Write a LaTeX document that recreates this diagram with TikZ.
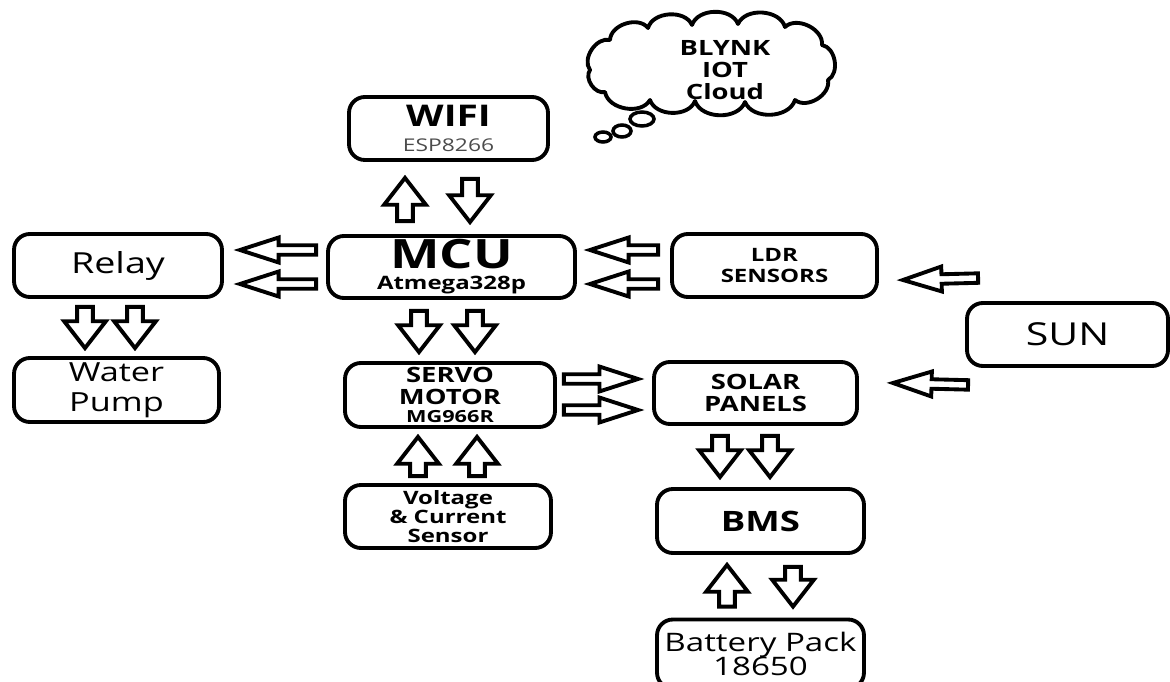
\documentclass[tikz,border=0pt]{standalone}
\usepackage{fontspec}
\setmainfont{Open Sans}[FakeStretch=1.3]
\usetikzlibrary{calc}

\tikzset{
  blk/.style={draw, line width=2.2pt, rounded corners=9pt, align=center, inner sep=0pt},
  hollow/.style={draw, line width=2.2pt, line join=miter, fill=white, to path={
      (\tikztostart) coordinate (t0) (\tikztotarget) coordinate (t1)
      ($(t1)!\ahead!(t0)$) coordinate (th)
      ($(t0)!\ashaft!90:(t1)$) -- ($(th)!\ashaft!-90:(t0)$) -- ($(th)!\awide!-90:(t0)$) -- (t1)
      -- ($(th)!\awide!90:(t0)$) -- ($(th)!\ashaft!90:(t0)$) -- ($(t0)!\ashaft!-90:(t1)$) -- cycle}},
  varrow/.style={hollow, /utils/exec={\def\ashaft{4.5pt}\def\awide{11.9pt}\def\ahead{15.3pt}}},
  harrow/.style={hollow, /utils/exec={\def\ashaft{2.7pt}\def\awide{7.1pt}\def\ahead{22pt}}},
  puff/.style={bend left=70},
}

\begin{document}
\begin{tikzpicture}[x=0.02cm, y=-0.02cm]
  %%%%% START %%%%%
  \useasboundingbox (0,0) rectangle (1170,682);

  % cloud
  \draw[line width=2pt, fill=white] (603,137) ellipse [x radius=8, y radius=5];
  \draw[line width=2pt, fill=white] (622,131) ellipse [x radius=9, y radius=6];
  \draw[line width=2pt, fill=white] (642,119) ellipse [x radius=12, y radius=7];
  \draw[line width=2.2pt, fill=white, line join=round] (590,70) to[puff] (610,40) to[puff] (648,28)
    to[puff] (692,25) to[puff] (738,24) to[puff] (785,27) to[puff] (822,45) to[puff] (828,80)
    to[puff] (795,100) to[puff] (745,102) to[puff] (695,101) to[puff] (650,100) to[puff] (605,92)
    to[puff] cycle;
  \node[align=center, font=\bfseries\fontsize{12}{12.7}\selectfont] (blynk) at (725,70) {BLYNK\\IOT\\Cloud};

  % boxes
  \node[blk, minimum width=3.98cm, minimum height=1.26cm, font=\fontsize{10}{14}\selectfont] (wifi) at (448.5,128.5) {{\bfseries\fontsize{17}{14}\selectfont WIFI}\\\textcolor{black!70}{ESP8266}};
  \node[blk, minimum width=4.94cm, minimum height=1.24cm, font={\bfseries\fontsize{10.5}{12}\selectfont\lineskiplimit=-5pt}] (mcu) at (451.5,267) {{\fontsize{23}{12}\selectfont MCU}\\Atmega328p};
  \node[blk, minimum width=4.16cm, minimum height=1.26cm, font=\fontsize{16.5}{18}\selectfont] (relay) at (118,265.5) {Relay};
  \node[blk, minimum width=4.1cm, minimum height=1.28cm, font={\fontsize{15}{17}\selectfont\lineskiplimit=-5pt}] (pump) at (116.5,390) {Water\\Pump};
  \node[blk, minimum width=4.1cm, minimum height=1.26cm, font=\bfseries\fontsize{10.5}{11.5}\selectfont] (ldr) at (774.5,265.5) {LDR\\SENSORS};
  \node[blk, minimum width=4.02cm, minimum height=1.26cm, font=\fontsize{18}{20}\selectfont] (sun) at (1067.5,334.5) {SUN};
  \node[blk, minimum width=4.06cm, minimum height=1.24cm, font=\bfseries\fontsize{12}{13}\selectfont] (solar) at (755.5,393) {SOLAR\\PANELS};
  \node[blk, minimum width=4.2cm, minimum height=1.28cm, font={\bfseries\fontsize{12}{12.5}\selectfont\lineskiplimit=-5pt}] (servo) at (450,395) {SERVO\\MOTOR\\[-2.5pt]{\fontsize{9.5}{10}\selectfont MG966R}};
  \node[blk, minimum width=4.12cm, minimum height=1.26cm, font={\bfseries\fontsize{10.5}{11}\selectfont\lineskiplimit=-5pt}] (volt) at (448,516.5) {Voltage\\\& Current\\Sensor};
  \node[blk, minimum width=4.14cm, minimum height=1.28cm, font=\bfseries\fontsize{16}{18}\selectfont] (bms) at (760.5,521) {BMS};
  \node[blk, minimum width=4.14cm, minimum height=1.38cm, font={\fontsize{14.5}{14}\selectfont\lineskiplimit=-5pt}] (battery) at (760.5,654) {Battery Pack\\18650};

  % wifi <-> mcu
  \draw[varrow] ($(mcu.north)+(-46.5,-13)$) to ($(wifi.south)+(-43.5,16)$);
  \draw[varrow] ($(wifi.south)+(21.5,17)$) to ($(mcu.north)+(18.5,-12)$);
  % mcu -> relay
  \draw[harrow] ($(mcu.west)+(-10,-17)$) to ($(relay.east)+(16,-15.5)$);
  \draw[harrow] ($(mcu.west)+(-10,17)$) to ($(relay.east)+(16,18.5)$);
  % ldr -> mcu
  \draw[harrow] ($(ldr.west)+(-12,-15.5)$) to ($(mcu.east)+(13,-17)$);
  \draw[harrow] ($(ldr.west)+(-12,18.5)$) to ($(mcu.east)+(13,17)$);
  % sun -> ldr, sun -> solar
  \draw[harrow] ($(sun.north west)+(13,-23)$) to ($(ldr.east)+(24,14.5)$);
  \draw[harrow] ($(sun.south west)+(3,17)$) to ($(solar.east)+(34,-10)$);
  % servo -> solar
  \draw[harrow] ($(servo.east)+(7,-16)$) to ($(solar.west)+(-14,-14)$);
  \draw[harrow] ($(servo.east)+(7,15)$) to ($(solar.west)+(-14,17)$);
  % mcu -> servo
  \draw[varrow] ($(mcu.south)+(-32.5,11)$) to ($(servo.north)+(-31,-9)$);
  \draw[varrow] ($(mcu.south)+(23.5,11)$) to ($(servo.north)+(25,-9)$);
  % volt -> servo
  \draw[varrow] ($(volt.north)+(-30,-7)$) to ($(servo.south)+(-32,8)$);
  \draw[varrow] ($(volt.north)+(29,-7)$) to ($(servo.south)+(27,8)$);
  % relay -> pump
  \draw[varrow] ($(relay.south)+(-33,8)$) to ($(pump.north)+(-31.5,-8)$);
  \draw[varrow] ($(relay.south)+(17,8)$) to ($(pump.north)+(18.5,-8)$);
  % solar -> bms
  \draw[varrow] ($(solar.south)+(-35.5,10)$) to ($(bms.north)+(-40.5,-10)$);
  \draw[varrow] ($(solar.south)+(14.5,10)$) to ($(bms.north)+(9.5,-10)$);
  % bms <-> battery
  \draw[varrow] ($(battery.north)+(-33.5,-11)$) to ($(bms.south)+(-33.5,10)$);
  \draw[varrow] ($(bms.south)+(32.5,12)$) to ($(battery.north)+(32.5,-11)$);

  %%%%% END %%%%%
\end{tikzpicture}
\end{document}
